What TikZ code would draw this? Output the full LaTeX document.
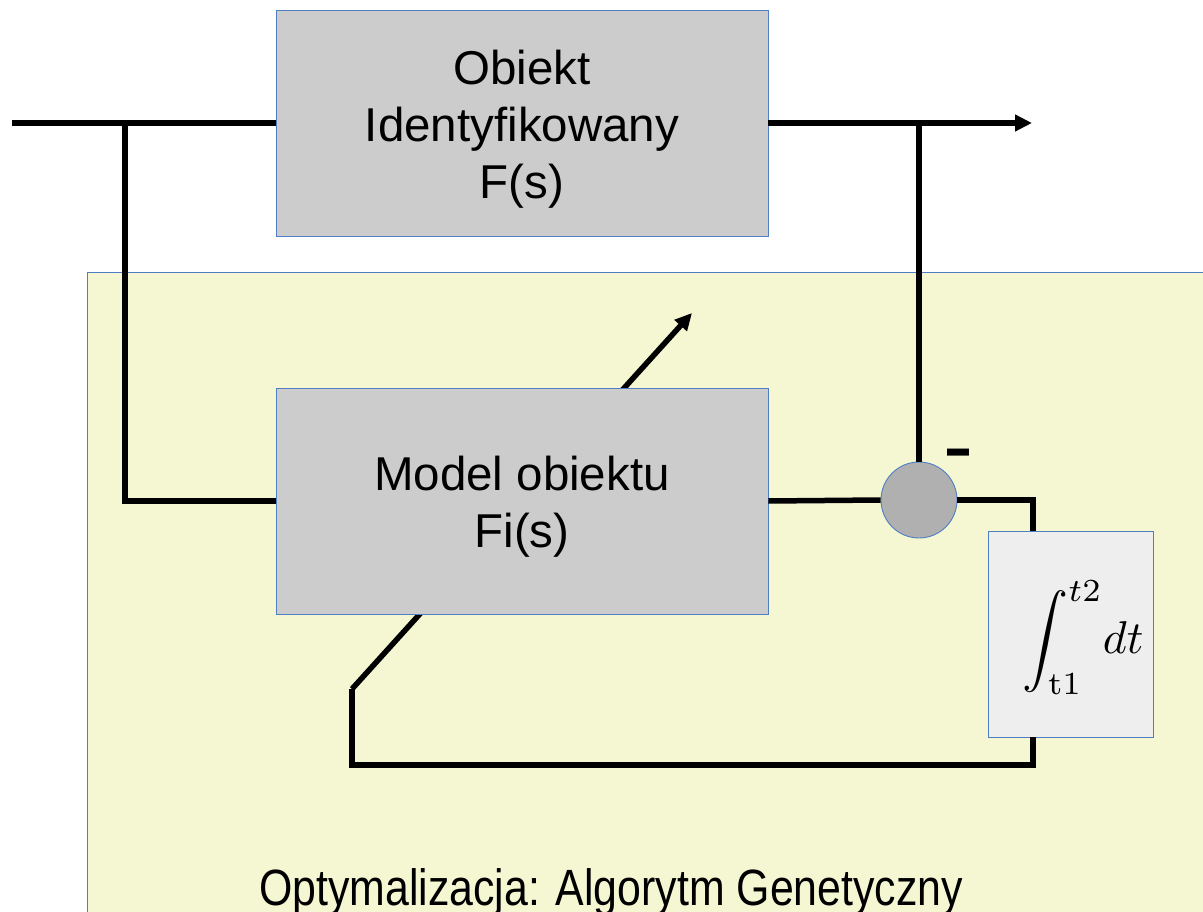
\documentclass[tikz,border=0pt]{standalone}
\usepackage[no-math]{fontspec}
\usepackage{graphicx}
\setmainfont{Liberation Sans}
\usetikzlibrary{arrows.meta}

\definecolor{panel}{HTML}{F5F7D3}
\definecolor{boxgray}{HTML}{CCCCCC}
\definecolor{sumgray}{HTML}{B0B0B0}
\definecolor{intgray}{HTML}{EEEEEE}
\definecolor{edge}{HTML}{4F7EC4}

\begin{document}
\begin{tikzpicture}[x=1pt,y=-1pt,
  block/.style={draw=edge, line width=0.9pt, fill=boxgray,
    minimum width=492pt, minimum height=226pt, inner sep=0pt},
  blocktext/.style={align=center, font=\fontsize{47.5}{57}\selectfont},
  sumnode/.style={circle, draw=edge, line width=0.9pt, fill=sumgray,
    minimum size=76pt, inner sep=0pt},
  intbox/.style={draw=edge, line width=0.9pt, fill=intgray,
    minimum width=165pt, minimum height=206pt, inner sep=0pt},
  sig/.style={line width=5.5pt, line cap=butt, line join=miter},
  tip/.style={-{Triangle[length=17pt,width=16pt]}}]

\useasboundingbox (0,0) rectangle (1203,912);

% optimisation panel
\fill[panel] (87,272) rectangle (1215,925);
\draw[edge, line width=0.9pt] (87,925) -- (87,272) -- (1215,272);

% junction points and free ends
\coordinate (in)   at (12,123);
\coordinate (out)  at (1032,123);
\coordinate (tapL) at (125,123);
\coordinate (tapR) at (919,123);
\coordinate (errR) at (1033,500);
\coordinate (fbR)  at (1033,765);
\coordinate (fbL)  at (352,765);
\coordinate (fbK)  at (352,689);
\coordinate (tune) at (692,313);

% adjustment arrow through the model (drawn first, the model covers it)
\draw[sig, tip] (fbK) -- (tune);

% blocks
\node[block] (obj)   at (522,123) {};
\node[blocktext] (objtxt) at (522,129) {Obiekt\\Identyfikowany\\F(s)};
\node[block] (model) at (522,501) {};
\node[blocktext] (modeltxt) at (522,507) {Model obiektu\\Fi(s)};
\node[sumnode] (sum) at (919,500) {};
\node[intbox] (int)  at (1070.5,634) {};
\node (intexpr) at (1083,638) {\scalebox{4.6}{$\displaystyle\int_{\mathrm{t1}}^{t2}\! dt$}};
\node[font=\fontsize{90}{90}\selectfont] (minus) at (958,463) {-};

% signal paths
\draw[sig] (in) -- (obj.west);
\draw[sig, tip] (obj.east) -- (out);
\draw[sig] (tapL) -- (tapL |- model.west) -- (model.west);
\draw[sig] (tapR) -- (sum.north);
\draw[sig] (model.east) -- (sum.west);
\draw[sig] (sum.east) -- (errR) -- (errR |- int.north);
\draw[sig] (errR |- int.south) -- (fbR) -- (fbL) -- (fbK);

% caption
\node[font=\fontsize{51}{51}\selectfont, anchor=base] (title) at (611,905)
  {\scalebox{0.84}[1]{Optymalizacja: Algorytm Genetyczny}};
\end{tikzpicture}
\end{document}
